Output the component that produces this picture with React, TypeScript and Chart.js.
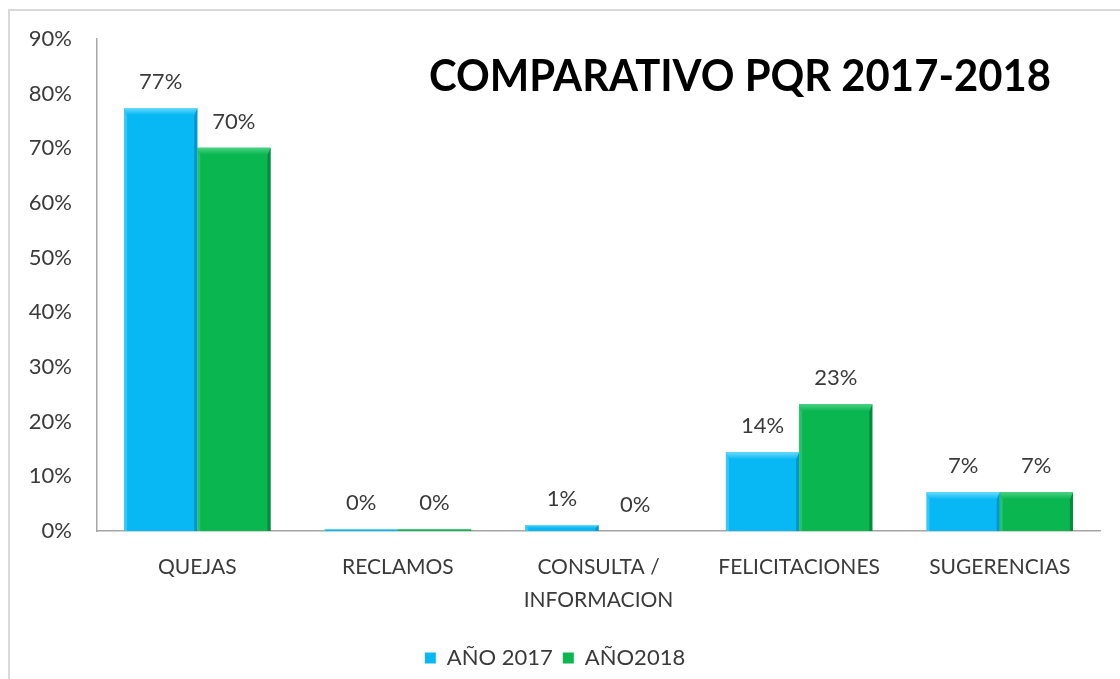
import React, { useEffect, useRef } from "react";
import { Chart, registerables } from "chart.js";

Chart.register(...registerables);

const categories: (string | string[])[] = [
  "QUEJAS",
  "RECLAMOS",
  ["CONSULTA /", "INFORMACION"],
  "FELICITACIONES",
  "SUGERENCIAS",
];
const seriesNames = ["AÑO 2017", "AÑO2018"];
const values2017 = [77.4, 0.3, 1.1, 14.4, 7.1];
const values2018 = [70.1, 0.3, 0, 23.2, 7.1];
const yMax = 90;
const yStep = 10;
const chartTitle = "COMPARATIVO PQR 2017-2018";

const mainColors = ["#08B8F4", "#09B650"];
const lightColors = ["#6ADBFC", "#49D283"];
const darkColors = ["#0795C8", "#078A3D"];

const FONT = "Lato, 'Open Sans', sans-serif";
const TEXT = "#3A3A3A";

const bevelPlugin = {
  id: "bevel",
  afterDatasetsDraw(chart: any) {
    const ctx = chart.ctx;
    chart.data.datasets.forEach((_ds: any, i: number) => {
      const meta = chart.getDatasetMeta(i);
      meta.data.forEach((bar: any) => {
        const { x, y, base, width } = bar.getProps(["x", "y", "base", "width"], true);
        const left = x - width / 2;
        const right = x + width / 2;
        const h = base - y;
        if (h <= 0) return;
        const b = Math.min(7, h / 2);
        const s = Math.min(3, h / 2);
        ctx.save();
        ctx.fillStyle = lightColors[i];
        ctx.globalAlpha = 0.45;
        ctx.beginPath();
        ctx.moveTo(left, y);
        ctx.lineTo(left + s, y + b);
        ctx.lineTo(left + s, base);
        ctx.lineTo(left, base);
        ctx.closePath();
        ctx.fill();
        ctx.globalAlpha = 1;
        ctx.fillStyle = darkColors[i];
        ctx.beginPath();
        ctx.moveTo(right, y);
        ctx.lineTo(right, base);
        ctx.lineTo(right - s, base);
        ctx.lineTo(right - s, y + b);
        ctx.closePath();
        ctx.fill();
        const g = ctx.createLinearGradient(0, y, 0, y + b);
        g.addColorStop(0, lightColors[i]);
        g.addColorStop(1, mainColors[i]);
        ctx.fillStyle = g;
        ctx.beginPath();
        ctx.moveTo(left, y);
        ctx.lineTo(right, y);
        ctx.lineTo(right - s, y + b);
        ctx.lineTo(left + s, y + b);
        ctx.closePath();
        ctx.fill();
        ctx.restore();
      });
    });
  },
};

const labelPlugin = {
  id: "valueLabels",
  afterDatasetsDraw(chart: any) {
    const ctx = chart.ctx;
    ctx.save();
    ctx.font = `22px ${FONT}`;
    ctx.fillStyle = TEXT;
    ctx.textAlign = "center";
    ctx.textBaseline = "middle";
    chart.data.datasets.forEach((ds: any, i: number) => {
      const meta = chart.getDatasetMeta(i);
      meta.data.forEach((bar: any, j: number) => {
        const { x, y } = bar.getProps(["x", "y"], true);
        ctx.fillText(`${Math.round(ds.data[j])}%`, x, y - 26);
      });
    });
    ctx.restore();
  },
};

const titlePlugin = {
  id: "insideTitle",
  afterDraw(chart: any) {
    const ctx = chart.ctx;
    const area = chart.chartArea;
    ctx.save();
    ctx.font = `bold 44px ${FONT}`;
    ctx.fillStyle = "#000000";
    ctx.textAlign = "center";
    ctx.textBaseline = "alphabetic";
    ctx.fillText(chartTitle, area.left + 643, area.top + 52, 622);
    ctx.restore();
  },
};

export default function App() {
  const canvasRef = useRef<HTMLCanvasElement | null>(null);

  useEffect(() => {
    if (!canvasRef.current) return;
    const chart = new Chart(canvasRef.current, {
      type: "bar",
      data: {
        labels: categories as any,
        datasets: [
          {
            label: seriesNames[0],
            data: values2017,
            backgroundColor: mainColors[0],
            borderWidth: 0,
            categoryPercentage: 0.73,
            barPercentage: 1,
          },
          {
            label: seriesNames[1],
            data: values2018,
            backgroundColor: mainColors[1],
            borderWidth: 0,
            categoryPercentage: 0.73,
            barPercentage: 1,
          },
        ],
      },
      options: {
        responsive: true,
        maintainAspectRatio: false,
        animation: false,
        layout: { padding: { top: 28, right: 20, bottom: 0, left: 0 } },
        plugins: {
          title: { display: false },
          tooltip: { enabled: false },
          legend: {
            display: true,
            position: "bottom",
            labels: {
              boxWidth: 11,
              boxHeight: 11,
              padding: 10,
              color: TEXT,
              font: { family: FONT, size: 22 },
            },
          },
        },
        scales: {
          x: {
            grid: { display: false, drawTicks: false },
            border: { display: true, color: "#A6A6A6", width: 1.5 },
            ticks: {
              color: TEXT,
              font: { family: FONT, size: 21, lineHeight: 1.55 },
              padding: 20,
              maxRotation: 0,
              autoSkip: false,
            },
            afterFit: (scale: any) => {
              scale.height = 106;
              scale.paddingLeft = 0;
              scale.paddingRight = 0;
            },
          },
          y: {
            min: 0,
            max: yMax,
            grid: { display: false, drawTicks: false },
            border: { display: true, color: "#A6A6A6", width: 1.5 },
            ticks: {
              stepSize: yStep,
              color: TEXT,
              padding: 25,
              font: { family: FONT, size: 22 },
              callback: (v: any) => `${v}%`,
            },
            afterFit: (scale: any) => {
              scale.width = 87;
              scale.paddingTop = 0;
              scale.paddingBottom = 0;
            },
          },
        },
      },
      plugins: [bevelPlugin, labelPlugin, titlePlugin],
    });
    return () => chart.destroy();
  }, []);

  return (
    <div
      style={{
        position: "fixed",
        left: 8,
        top: 9,
        width: 1112,
        height: 670,
        boxSizing: "border-box",
        borderTop: "2px solid #D9D9D9",
        borderLeft: "2px solid #D9D9D9",
        background: "#fff",
      }}
    >
      <div style={{ position: "relative", width: "100%", height: "100%" }}>
        <canvas ref={canvasRef} />
      </div>
    </div>
  );
}
